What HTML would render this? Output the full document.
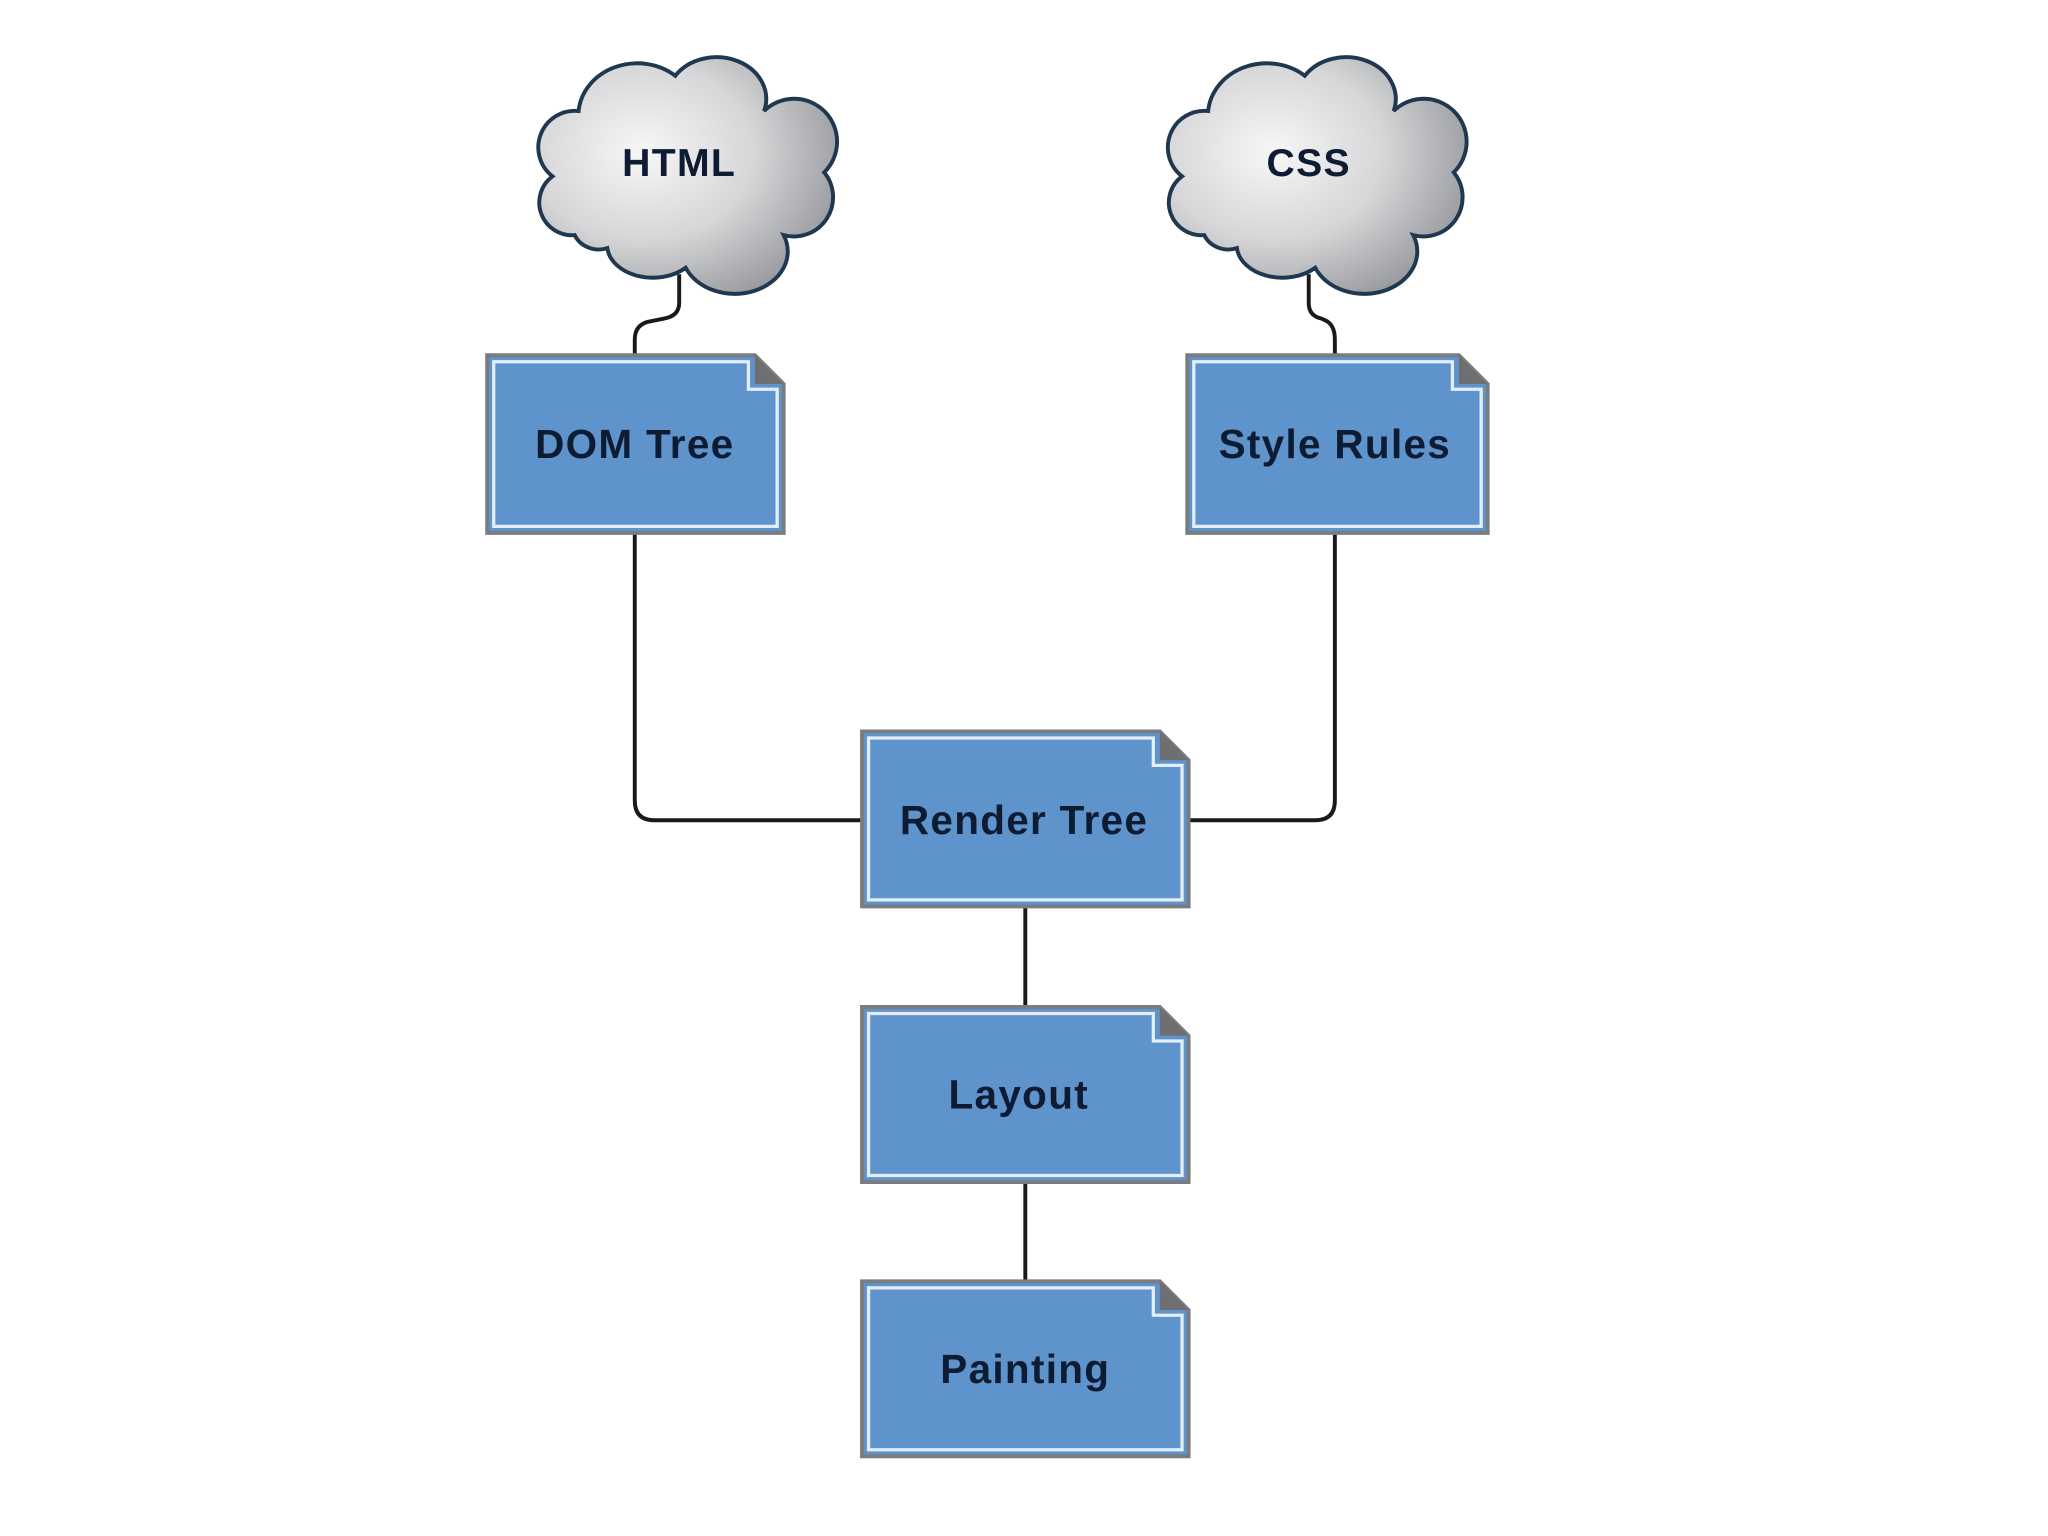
<!DOCTYPE html>
<html><head><meta charset="utf-8"><style>
html,body{margin:0;padding:0;background:#fff;}
svg{display:block;}
text{font-family:"Liberation Sans",Arial,sans-serif;font-weight:bold;fill:#0d1b33;text-anchor:middle;dominant-baseline:central;}
</style></head><body>
<svg width="2048" height="1536" viewBox="0 0 1568 1176" xmlns="http://www.w3.org/2000/svg">
<defs>
<radialGradient id="cg" cx="0.35" cy="0.4" r="0.75">
<stop offset="0" stop-color="#f7f7f7"/><stop offset="0.5" stop-color="#d6d6d8"/><stop offset="1" stop-color="#8e9094"/>
</radialGradient>
<g id="cloud">
<path d="M35,140 A25,25 0 0 1 18,95 A28,28 0 0 1 38,45 A45,40 0 0 1 112,18 A38,32 0 0 1 180,45 A30,30 0 0 1 226,92 A30,30 0 0 1 195,140 A40,32 0 0 1 120,165 A35,25 0 0 1 60,150 A20,18 0 0 1 35,140 Z" fill="url(#cg)" stroke="#1f3850" stroke-width="3"/>
</g>
<g id="doc">
<path d="M0,0 H205 L227,22 V136 H0 Z" fill="#5f93cc" stroke="#7a7d80" stroke-width="3"/>
<path d="M5,5 H200 V26 H222 V131 H5 Z" fill="none" stroke="#e4eef8" stroke-width="2.5"/>
<path d="M205,0 L227,22 H205 Z" fill="#6f6f72"/>
</g>
<g id="doc2">
<path d="M0,0 H228 L250,22 V134 H0 Z" fill="#5f93cc" stroke="#7a7d80" stroke-width="3"/>
<path d="M5,5 H223 V26 H245 V129 H5 Z" fill="none" stroke="#e4eef8" stroke-width="2.5"/>
<path d="M228,0 L250,22 H228 Z" fill="#6f6f72"/>
</g>
</defs>

<g fill="none" stroke="#1a1a1a" stroke-width="3">
<path d="M520,210 V232 Q520,242 508,244 L498,246 Q486,248 486,260 V272"/>
<path d="M1002,210 V232 Q1002,242 1012,244 L1014,245 Q1022,248 1022,260 V272"/>
<path d="M486,408 V613 Q486,628 501,628 H660"/>
<path d="M1022,408 V613 Q1022,628 1007,628 H910"/>
<path d="M785,693 V770"/>
<path d="M785,905 V980"/>
</g>

<use href="#cloud" transform="translate(405,40)"/>
<use href="#cloud" transform="translate(887,40)"/>
<text x="520" y="125" font-size="30" letter-spacing="1">HTML</text>
<text x="1002" y="125" font-size="30" letter-spacing="1">CSS</text>

<g transform="translate(373,272)"><use href="#doc"/></g>
<g transform="translate(909,272)"><path d="M0,0 H208 L230,22 V136 H0 Z" fill="#5f93cc" stroke="#7a7d80" stroke-width="3"/><path d="M5,5 H203 V26 H225 V131 H5 Z" fill="none" stroke="#e4eef8" stroke-width="2.5"/><path d="M208,0 L230,22 H208 Z" fill="#6f6f72"/></g>
<g transform="translate(660,560)"><use href="#doc2"/></g>
<g transform="translate(660,771)"><use href="#doc2"/></g>
<g transform="translate(660,981)"><use href="#doc2"/></g>

<text x="486" y="340" font-size="31" letter-spacing="1">DOM Tree</text>
<text x="1022" y="340" font-size="31" letter-spacing="1">Style Rules</text>
<text x="784" y="628" font-size="31" letter-spacing="1">Render Tree</text>
<text x="780" y="838" font-size="31" letter-spacing="1">Layout</text>
<text x="785" y="1048" font-size="31" letter-spacing="1">Painting</text>
</svg>
</body></html>
